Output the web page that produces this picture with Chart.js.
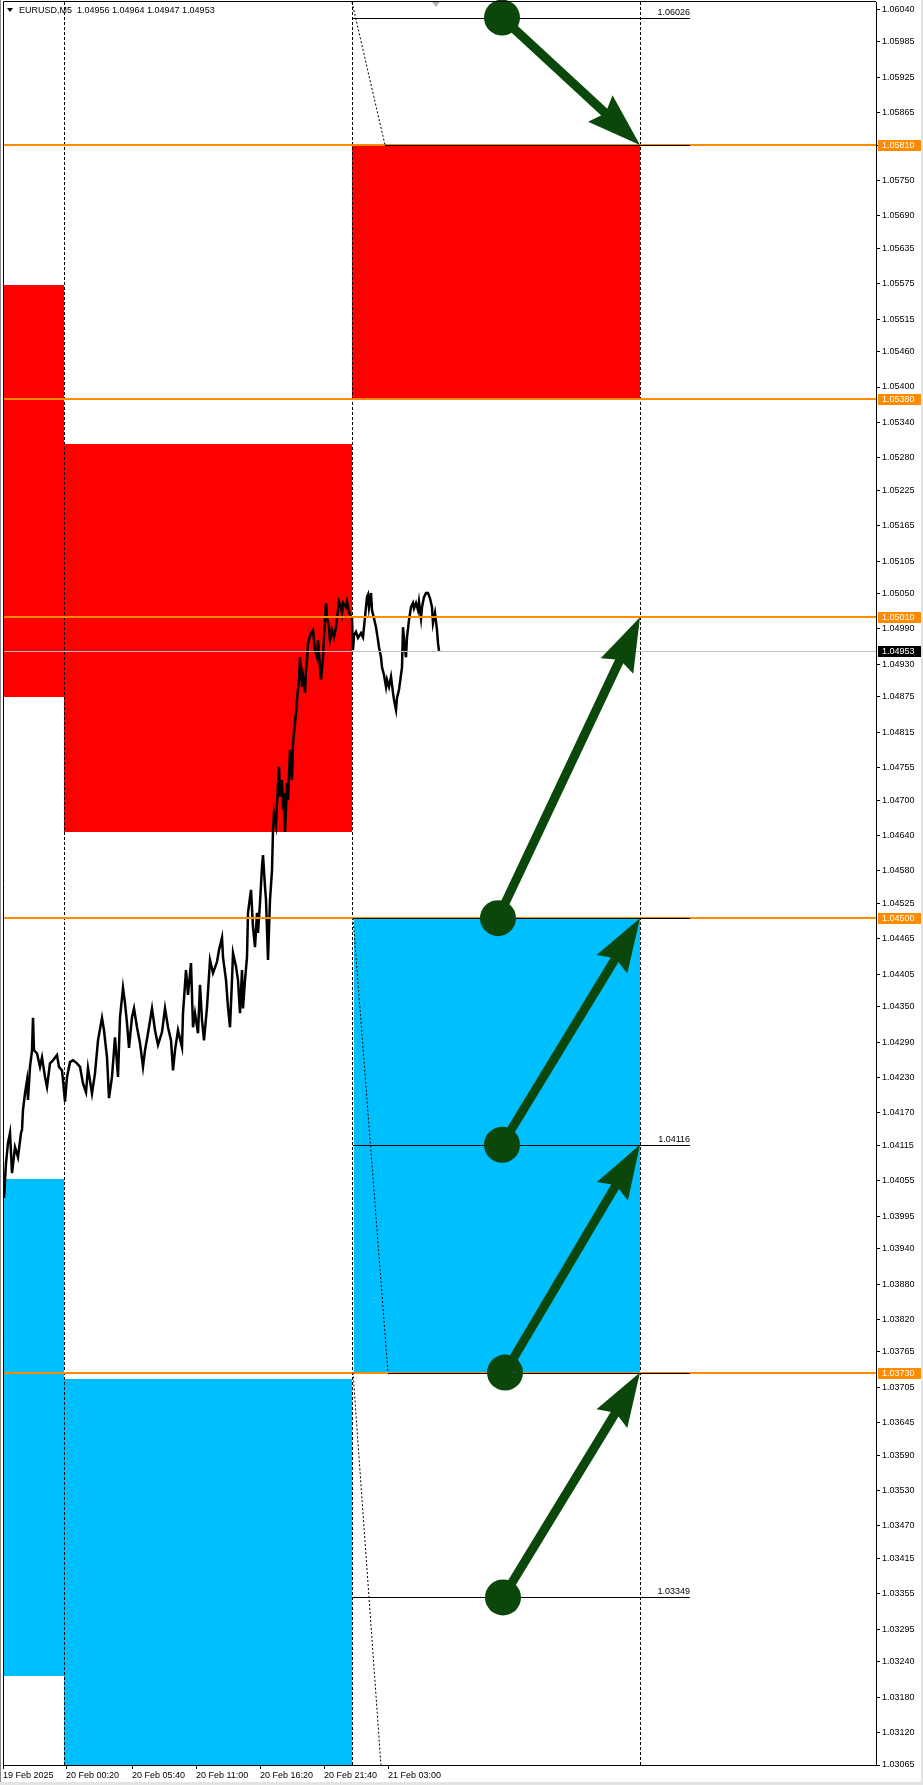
<!DOCTYPE html>
<html>
<head>
<meta charset="utf-8">
<title>EURUSD,M5</title>
<script src="https://cdn.jsdelivr.net/npm/chart.js@4.4.1/dist/chart.umd.min.js"></script>
<style>
  html, body { margin: 0; padding: 0; background: #fff; }
  #wrap { position: relative; width: 923px; height: 1785px; }
</style>
</head>
<body>
<div id="wrap"><canvas id="priceChart"></canvas></div>
<script>
// EURUSD M5 with supply / demand zones and projected moves

const symbolTitle = 'EURUSD,M5  1.04956 1.04964 1.04947 1.04953';

// bar index (1 bar = 1 px of the MT4 window), close-ish prices
const priceBars = [
  1, 3, 5, 7, 9, 12, 15, 18, 19, 20,
  22, 24, 25, 27, 29, 30, 31, 34, 37, 39,
  42, 44, 47, 50, 54, 56, 59, 60, 62, 64,
  67, 70, 74, 77, 80, 83, 85, 89, 92, 95,
  99, 101, 104, 106, 109, 112, 115, 117, 120, 122,
  124, 126, 129, 131, 134, 137, 140, 142, 145, 149,
  152, 155, 159, 162, 165, 168, 170, 172, 175, 179,
  180, 183, 185, 188, 190, 192, 195, 197, 199, 201,
  204, 207, 210, 214, 216, 219, 220, 223, 225, 227,
  229, 230, 233, 235, 237, 239, 240, 242, 244, 245,
  248, 250, 252, 254, 255, 257, 259, 260, 262, 263,
  265, 267, 269, 270, 271, 273, 274, 276, 277, 279,
  280, 281, 282, 284, 285, 287, 289, 290, 292, 293,
  294, 296, 297, 299, 300, 302, 303, 304, 305, 308,
  310, 312, 314, 315, 317, 318, 320, 321, 323, 324,
  326, 327, 329, 331, 333, 335, 336, 338, 339, 340,
  343, 344, 346, 348, 349, 350, 351, 353, 355, 358,
  360, 362, 364, 365, 366, 368, 369, 371, 373, 375,
  376, 378, 379, 381, 383, 384, 386, 388, 390, 391,
  393, 394, 396, 399, 400, 402, 403, 404, 406, 408,
  410, 411, 413, 415, 416, 418, 419, 421, 423, 425,
  427, 429, 430, 432, 434, 435, 436
];
const priceValues = [
  1.04026, 1.04085, 1.04119, 1.04136, 1.04068, 1.04112, 1.04095, 1.04136, 1.04141, 1.04175,
  1.04203, 1.04225, 1.04192, 1.04248, 1.04276, 1.04331, 1.04276, 1.04271, 1.04248, 1.04264,
  1.04231, 1.04214, 1.04254, 1.04259, 1.04268, 1.04248, 1.04242, 1.04225, 1.04189, 1.04231,
  1.04256, 1.04259, 1.04254, 1.04248, 1.04220, 1.04205, 1.04246, 1.04203, 1.04237, 1.04293,
  1.04331, 1.04310, 1.04264, 1.04195, 1.04231, 1.04298, 1.04231, 1.04332, 1.04382, 1.04356,
  1.04322, 1.04280, 1.04332, 1.04347, 1.04315, 1.04288, 1.04248, 1.04276, 1.04305, 1.04347,
  1.04310, 1.04285, 1.04307, 1.04347, 1.04315, 1.04293, 1.04242, 1.04276, 1.04310, 1.04281,
  1.04339, 1.04412, 1.04370, 1.04424, 1.04315, 1.04339, 1.04305, 1.04387, 1.04327, 1.04293,
  1.04349, 1.04429, 1.04407, 1.04426, 1.04446, 1.04467, 1.04434, 1.04395, 1.04349, 1.04315,
  1.04395, 1.04441, 1.04418, 1.04395, 1.04339, 1.04412, 1.04347, 1.04395, 1.04434, 1.04509,
  1.04548, 1.04485, 1.04451, 1.04509, 1.04475, 1.04526, 1.04587, 1.04607, 1.04553, 1.04531,
  1.04429, 1.04531, 1.04581, 1.04649, 1.04678, 1.04658, 1.04695, 1.04757, 1.04706, 1.04734,
  1.04684, 1.04712, 1.04646, 1.04729, 1.04700, 1.04785, 1.04734, 1.04797, 1.04831, 1.04848,
  1.04870, 1.04904, 1.04942, 1.04892, 1.04909, 1.04882, 1.04920, 1.04937, 1.04966, 1.04983,
  1.04988, 1.04954, 1.04942, 1.04971, 1.04925, 1.04904, 1.04942, 1.04976, 1.05034, 1.05010,
  1.04993, 1.04971, 1.04988, 1.04976, 1.04993, 1.05022, 1.05036, 1.05027, 1.05017, 1.05034,
  1.05027, 1.05036, 1.05019, 1.05010, 1.05008, 1.04954, 1.04979, 1.04985, 1.04975, 1.04983,
  1.04976, 1.05010, 1.05044, 1.05048, 1.05027, 1.05051, 1.05022, 1.05008, 1.04993, 1.04971,
  1.04959, 1.04942, 1.04925, 1.04912, 1.04892, 1.04904, 1.04892, 1.04909, 1.04882, 1.04870,
  1.04853, 1.04873, 1.04887, 1.04925, 1.04993, 1.04954, 1.04942, 1.04976, 1.05005, 1.05027,
  1.05034, 1.05025, 1.05034, 1.05022, 1.05036, 1.05008, 1.05027, 1.05044, 1.05051, 1.05051,
  1.05042, 1.05027, 1.05000, 1.05017, 1.04988, 1.04966, 1.04953
];

const priceTicks = [
  1.06040, 1.05985, 1.05925, 1.05865, 1.05810, 1.05750, 1.05690, 1.05635, 1.05575, 1.05515,
  1.05460, 1.05400, 1.05340, 1.05280, 1.05225, 1.05165, 1.05105, 1.05050, 1.04990, 1.04930,
  1.04875, 1.04815, 1.04755, 1.04700, 1.04640, 1.04580, 1.04525, 1.04465, 1.04405, 1.04350,
  1.04290, 1.04230, 1.04170, 1.04115, 1.04055, 1.03995, 1.03940, 1.03880, 1.03820, 1.03765,
  1.03705, 1.03645, 1.03590, 1.03530, 1.03470, 1.03415, 1.03355, 1.03295, 1.03240, 1.03180,
  1.03120, 1.03065
];
const timeTicks = [0, 63, 129, 193, 257, 321, 385];
const timeLabels = ['19 Feb 2025', '20 Feb 00:20', '20 Feb 05:40', '20 Feb 11:00', '20 Feb 16:20', '20 Feb 21:40', '21 Feb 03:00'];

const separatorBars = [61, 349, 637];

const zoneStart = [0, 61, 349, 0, 61, 351];
const zoneEnd = [61, 349, 637, 61, 349, 637];
const zoneTop = [1.05573, 1.05303, 1.05810, 1.04058, 1.03719, 1.04500];
const zoneBottom = [1.04875, 1.04646, 1.05380, 1.03216, 1.03000, 1.03730];
const zoneType = ['supply', 'supply', 'supply', 'demand', 'demand', 'demand'];

const levelPrices = [1.05810, 1.05380, 1.05010, 1.04500, 1.03730];
const bidPrice = 1.04953;

const fiboPrices = [1.06026, 1.05810, 1.04500, 1.04116, 1.03730, 1.03349];
const fiboStart = [349, 382, 350, 350, 385, 350];
const fiboEnd = [687, 687, 687, 687, 687, 687];
const fiboLabeled = [true, false, false, true, false, true];

const trendFromBar = [349, 350, 350];
const trendFromPrice = [1.06052, 1.04500, 1.03730];
const trendToBar = [382, 385, 382];
const trendToPrice = [1.05810, 1.03730, 1.02968];

const arrowFromBar = [499, 495, 499, 502, 500];
const arrowFromPrice = [1.06026, 1.04500, 1.04116, 1.03730, 1.03349];
const arrowToBar = [637, 637, 637, 637, 637];
const arrowToPrice = [1.05810, 1.05010, 1.04500, 1.04116, 1.03730];

const shiftBar = 433;

const FONT = '9px "Liberation Sans", Arial, sans-serif';
const ORANGE = '#ff8c00';
const ARROW_GREEN = '#0b470b';

Chart.defaults.font.family = '"Liberation Sans", Arial, sans-serif';
Chart.defaults.font.size = 9;
Chart.defaults.color = '#000';

const mtObjects = {
  id: 'mtObjects',

  beforeDatasetsDraw(chart) {
    const { ctx, chartArea: a, scales: { x, y } } = chart;
    ctx.save();
    ctx.beginPath();
    ctx.rect(a.left, a.top, a.right - a.left, a.bottom - a.top);
    ctx.clip();

    zoneStart.forEach((s, i) => {
      const x1 = x.getPixelForValue(s);
      const x2 = x.getPixelForValue(zoneEnd[i]);
      const y1 = y.getPixelForValue(zoneTop[i]);
      const y2 = y.getPixelForValue(zoneBottom[i]);
      ctx.fillStyle = zoneType[i] === 'supply' ? '#ff0000' : '#00bfff';
      ctx.fillRect(Math.round(x1), Math.round(y1), Math.round(x2 - x1), Math.round(y2 - y1));
    });

    // day separators
    ctx.strokeStyle = '#000';
    ctx.lineWidth = 1;
    ctx.setLineDash([3, 2]);
    separatorBars.forEach((b) => {
      const px = Math.round(x.getPixelForValue(b)) + 0.5;
      ctx.beginPath();
      ctx.moveTo(px, a.top);
      ctx.lineTo(px, a.bottom);
      ctx.stroke();
    });
    ctx.restore();
  },

  afterDatasetsDraw(chart) {
    const { ctx, chartArea: a, scales: { x, y } } = chart;
    ctx.save();
    ctx.beginPath();
    ctx.rect(a.left, a.top, a.right - a.left, a.bottom - a.top);
    ctx.clip();

    // bid line
    ctx.strokeStyle = '#c0c0c0';
    ctx.lineWidth = 1;
    const py = Math.round(y.getPixelForValue(bidPrice)) + 0.5;
    ctx.beginPath();
    ctx.moveTo(a.left, py);
    ctx.lineTo(a.right, py);
    ctx.stroke();

    // horizontal levels
    ctx.strokeStyle = ORANGE;
    ctx.lineWidth = 2;
    levelPrices.forEach((p) => {
      const ly = Math.round(y.getPixelForValue(p));
      ctx.beginPath();
      ctx.moveTo(a.left, ly);
      ctx.lineTo(a.right, ly);
      ctx.stroke();
    });

    // fibo style segments
    ctx.strokeStyle = '#000';
    ctx.fillStyle = '#000';
    ctx.lineWidth = 1;
    ctx.font = FONT;
    ctx.textAlign = 'right';
    ctx.textBaseline = 'bottom';
    fiboPrices.forEach((p, i) => {
      const fy = Math.round(y.getPixelForValue(p)) + 0.5;
      const x1 = x.getPixelForValue(fiboStart[i]);
      const x2 = x.getPixelForValue(fiboEnd[i]);
      ctx.beginPath();
      ctx.moveTo(x1, fy);
      ctx.lineTo(x2, fy);
      ctx.stroke();
      if (fiboLabeled[i]) {
        ctx.fillText(p.toFixed(5), x2, fy - 1.5);
      }
    });

    ctx.setLineDash([2, 2]);
    trendFromBar.forEach((b, i) => {
      ctx.beginPath();
      ctx.moveTo(x.getPixelForValue(b), y.getPixelForValue(trendFromPrice[i]));
      ctx.lineTo(x.getPixelForValue(trendToBar[i]), y.getPixelForValue(trendToPrice[i]));
      ctx.stroke();
    });
    ctx.setLineDash([]);
    ctx.restore();

    // projected moves
    ctx.save();
    ctx.fillStyle = ARROW_GREEN;
    ctx.strokeStyle = ARROW_GREEN;
    arrowFromBar.forEach((fb, i) => {
      const sx = x.getPixelForValue(fb);
      const sy = y.getPixelForValue(arrowFromPrice[i]);
      const tx = x.getPixelForValue(arrowToBar[i]);
      const ty = y.getPixelForValue(arrowToPrice[i]);
      const len = Math.hypot(tx - sx, ty - sy);
      const dx = (tx - sx) / len;
      const dy = (ty - sy) / len;
      const headLen = 54;
      const headHalf = 18;
      const bx = tx - dx * headLen;
      const by = ty - dy * headLen;

      ctx.lineWidth = 9;
      ctx.lineCap = 'butt';
      ctx.beginPath();
      ctx.moveTo(sx, sy);
      ctx.lineTo(bx + dx * 8, by + dy * 8);
      ctx.stroke();

      ctx.beginPath();
      ctx.moveTo(tx, ty);
      ctx.lineTo(bx - dy * headHalf, by + dx * headHalf);
      ctx.lineTo(bx + dx * 7, by + dy * 7);
      ctx.lineTo(bx + dy * headHalf, by - dx * headHalf);
      ctx.closePath();
      ctx.fill();

      ctx.beginPath();
      ctx.arc(sx, sy, 18, 0, Math.PI * 2);
      ctx.fill();
    });
    ctx.restore();
  },

  afterDraw(chart) {
    const { ctx, chartArea: a, scales: { x, y } } = chart;
    ctx.save();
    ctx.font = FONT;

    // price tags on the axis
    const tags = levelPrices.map((p) => ({ price: p, bg: ORANGE }));
    tags.push({ price: bidPrice, bg: '#000' });
    ctx.textAlign = 'left';
    ctx.textBaseline = 'middle';
    tags.forEach((t) => {
      const ty = Math.round(y.getPixelForValue(t.price));
      ctx.fillStyle = t.bg;
      ctx.fillRect(a.right + 2, ty - 5, 43, 11);
      ctx.fillStyle = '#fff';
      ctx.fillText(t.price.toFixed(5), a.right + 6, ty + 0.5);
    });

    // frame
    ctx.strokeStyle = '#000';
    ctx.lineWidth = 1;
    ctx.beginPath();
    ctx.moveTo(3.5, a.bottom);
    ctx.lineTo(3.5, 1.5);
    ctx.lineTo(a.right, 1.5);
    ctx.stroke();
    ctx.strokeStyle = '#8a8a8a';
    ctx.beginPath();
    ctx.moveTo(0.5, 0);
    ctx.lineTo(0.5, 1782);
    ctx.stroke();
    ctx.fillStyle = '#e3e3e3';
    ctx.fillRect(0, 1782, 923, 3);
    ctx.fillRect(921, 0, 2, 1782);

    // chart shift marker
    const sx = Math.round(x.getPixelForValue(shiftBar));
    ctx.fillStyle = '#b4b4b4';
    ctx.beginPath();
    ctx.moveTo(sx - 4, 2);
    ctx.lineTo(sx + 4, 2);
    ctx.lineTo(sx, 7);
    ctx.closePath();
    ctx.fill();

    // title
    ctx.fillStyle = '#000';
    ctx.beginPath();
    ctx.moveTo(7, 8);
    ctx.lineTo(13, 8);
    ctx.lineTo(10, 12);
    ctx.closePath();
    ctx.fill();
    ctx.textAlign = 'left';
    ctx.textBaseline = 'middle';
    ctx.fillText(symbolTitle, 19, 10.5);
    ctx.restore();
  }
};

document.addEventListener('DOMContentLoaded', () => {
  const ctx = document.getElementById('priceChart');

  new Chart(ctx, {
    type: 'line',
    data: {
      datasets: [{
        label: 'EURUSD,M5',
        data: priceBars.map((b, i) => ({ x: b, y: priceValues[i] })),
        borderColor: '#000',
        borderWidth: 2.5,
        pointRadius: 0,
        tension: 0,
        fill: false
      }]
    },
    options: {
      responsive: true,
      maintainAspectRatio: false,
      animation: false,
      events: [],
      layout: {
        padding: { left: 3, top: 2, right: 0, bottom: 0 }
      },
      plugins: {
        legend: { display: false },
        tooltip: { enabled: false }
      },
      scales: {
        x: {
          type: 'linear',
          min: 0,
          max: 873,
          afterBuildTicks: (scale) => {
            scale.ticks = timeTicks.map((v) => ({ value: v }));
          },
          afterFit: (scale) => {
            scale.height = 20;
            scale.paddingLeft = 0;
            scale.paddingRight = 0;
          },
          ticks: {
            autoSkip: false,
            maxRotation: 0,
            align: 'start',
            padding: 1,
            color: '#000',
            callback: (value, index) => timeLabels[index]
          },
          grid: {
            drawOnChartArea: false,
            drawTicks: true,
            tickLength: 4,
            color: '#000'
          },
          border: { display: true, color: '#000' }
        },
        y: {
          type: 'linear',
          position: 'right',
          min: 1.03065,
          max: 1.060524,
          afterBuildTicks: (scale) => {
            scale.ticks = priceTicks.map((v) => ({ value: v }));
          },
          afterFit: (scale) => {
            scale.width = 47;
            scale.paddingTop = 0;
            scale.paddingBottom = 0;
          },
          ticks: {
            autoSkip: false,
            padding: 2,
            color: '#000',
            callback: (value) => Number(value).toFixed(5)
          },
          grid: {
            drawOnChartArea: false,
            drawTicks: true,
            tickLength: 4,
            color: '#000'
          },
          border: { display: true, color: '#000' }
        }
      }
    },
    plugins: [mtObjects]
  });
});
</script>
</body>
</html>
